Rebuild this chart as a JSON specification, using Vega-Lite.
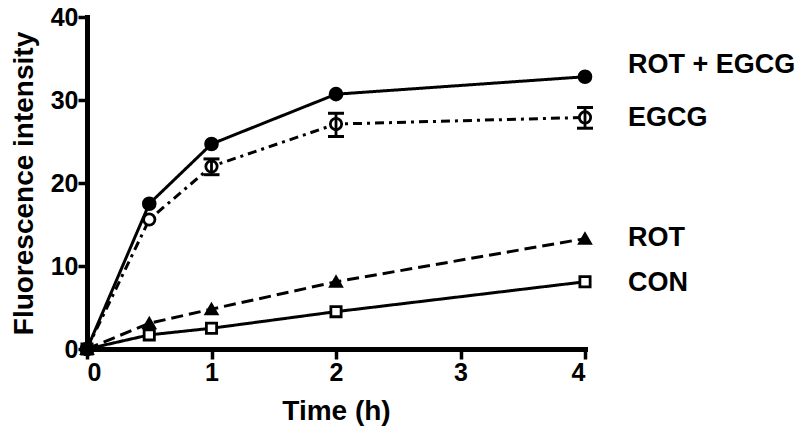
{
  "$schema": "https://vega.github.io/schema/vega-lite/v6.json",
  "width": 498,
  "height": 332,
  "autosize": {"type": "none"},
  "padding": {"left": 87, "top": 17, "right": 215, "bottom": 89},
  "background": "white",
  "config": {
    "view": {"stroke": null},
    "font": "Liberation Sans",
    "axis": {
      "grid": false,
      "domainColor": "black",
      "domainWidth": 5,
      "domainCap": "square",
      "tickColor": "black",
      "tickWidth": 3.5,
      "tickSize": 10,
      "labelFont": "Liberation Sans",
      "labelFontWeight": "bold",
      "labelFontSize": 25,
      "labelColor": "black",
      "titleFont": "Liberation Sans",
      "titleFontWeight": "bold",
      "titleFontSize": 28,
      "titleColor": "black"
    }
  },
  "datasets": {
    "series": [
      {"group": "CON", "t": 0, "v": 0},
      {"group": "CON", "t": 0.5, "v": 1.7},
      {"group": "CON", "t": 1, "v": 2.5},
      {"group": "CON", "t": 2, "v": 4.5},
      {"group": "CON", "t": 4, "v": 8.1},
      {"group": "EGCG", "t": 0, "v": 0, "lo": 0, "hi": 0},
      {"group": "EGCG", "t": 0.5, "v": 15.6, "lo": 15.3, "hi": 15.9},
      {"group": "EGCG", "t": 1, "v": 22.0, "lo": 21.0, "hi": 22.9},
      {"group": "EGCG", "t": 2, "v": 27.1, "lo": 25.6, "hi": 28.4},
      {"group": "EGCG", "t": 4, "v": 27.9, "lo": 26.6, "hi": 29.1},
      {"group": "ROT", "t": 0, "v": 0},
      {"group": "ROT", "t": 0.5, "v": 3.1},
      {"group": "ROT", "t": 1, "v": 4.8},
      {"group": "ROT", "t": 2, "v": 8.1},
      {"group": "ROT", "t": 4, "v": 13.3},
      {"group": "ROT + EGCG", "t": 0, "v": 0},
      {"group": "ROT + EGCG", "t": 0.5, "v": 17.5},
      {"group": "ROT + EGCG", "t": 1, "v": 24.7},
      {"group": "ROT + EGCG", "t": 2, "v": 30.7},
      {"group": "ROT + EGCG", "t": 4, "v": 32.8}
    ],
    "labels": [
      {"group": "ROT + EGCG", "t": 4, "v": 34.2},
      {"group": "EGCG", "t": 4, "v": 27.8},
      {"group": "ROT", "t": 4, "v": 13.4},
      {"group": "CON", "t": 4, "v": 8.0}
    ]
  },
  "encoding": {
    "x": {
      "field": "t", "type": "quantitative",
      "scale": {"domain": [0, 4], "nice": false, "zero": false},
      "axis": {"values": [0, 1, 2, 3, 4], "title": "Time (h)", "labelPadding": 1, "titlePadding": 12}
    },
    "y": {
      "field": "v", "type": "quantitative",
      "scale": {"domain": [0, 40], "nice": false},
      "axis": {"values": [0, 10, 20, 30, 40], "title": "Fluorescence intensity", "labelPadding": 0, "titlePadding": 12, "tickSize": 9}
    }
  },
  "layer": [
    {
      "data": {"name": "series"},
      "mark": {"type": "line", "color": "black", "strokeWidth": 3},
      "encoding": {
        "detail": {"field": "group"},
        "strokeDash": {
          "field": "group", "type": "nominal",
          "scale": {"domain": ["ROT + EGCG", "EGCG", "ROT", "CON"], "range": [[1, 0], [9, 5, 3, 5], [12, 6], [1, 0]]},
          "legend": null
        }
      }
    },
    {
      "data": {"name": "series"},
      "mark": {"type": "point", "stroke": "black", "strokeWidth": 2.8, "opacity": 1},
      "encoding": {
        "shape": {
          "field": "group", "type": "nominal",
          "scale": {"domain": ["ROT + EGCG", "EGCG", "ROT", "CON"], "range": ["circle", "circle", "triangle-up", "square"]},
          "legend": null
        },
        "fill": {
          "field": "group", "type": "nominal",
          "scale": {"domain": ["ROT + EGCG", "EGCG", "ROT", "CON"], "range": ["black", "white", "black", "white"]},
          "legend": null
        },
        "size": {
          "field": "group", "type": "nominal",
          "scale": {"domain": ["ROT + EGCG", "EGCG", "ROT", "CON"], "range": [140, 105, 110, 105]},
          "legend": null
        }
      }
    },
    {
      "data": {"name": "series"},
      "transform": [{"filter": "datum.group === 'EGCG' && datum.t > 0.6"}],
      "mark": {"type": "rule", "color": "black", "strokeWidth": 2.8},
      "encoding": {
        "y": {"field": "lo", "type": "quantitative"},
        "y2": {"field": "hi"}
      }
    },
    {
      "data": {"name": "series"},
      "transform": [{"filter": "datum.group === 'EGCG' && datum.t > 0.6"}],
      "mark": {"type": "tick", "orient": "horizontal", "color": "black", "size": 16, "thickness": 3, "opacity": 1},
      "encoding": {"y": {"field": "lo", "type": "quantitative"}}
    },
    {
      "data": {"name": "series"},
      "transform": [{"filter": "datum.group === 'EGCG' && datum.t > 0.6"}],
      "mark": {"type": "tick", "orient": "horizontal", "color": "black", "size": 16, "thickness": 3, "opacity": 1},
      "encoding": {"y": {"field": "hi", "type": "quantitative"}}
    },
    {
      "data": {"name": "labels"},
      "mark": {"type": "text", "align": "left", "baseline": "middle", "dx": 43, "fontSize": 27, "fontWeight": "bold", "font": "Liberation Sans", "color": "black"},
      "encoding": {"text": {"field": "group"}}
    }
  ]
}
